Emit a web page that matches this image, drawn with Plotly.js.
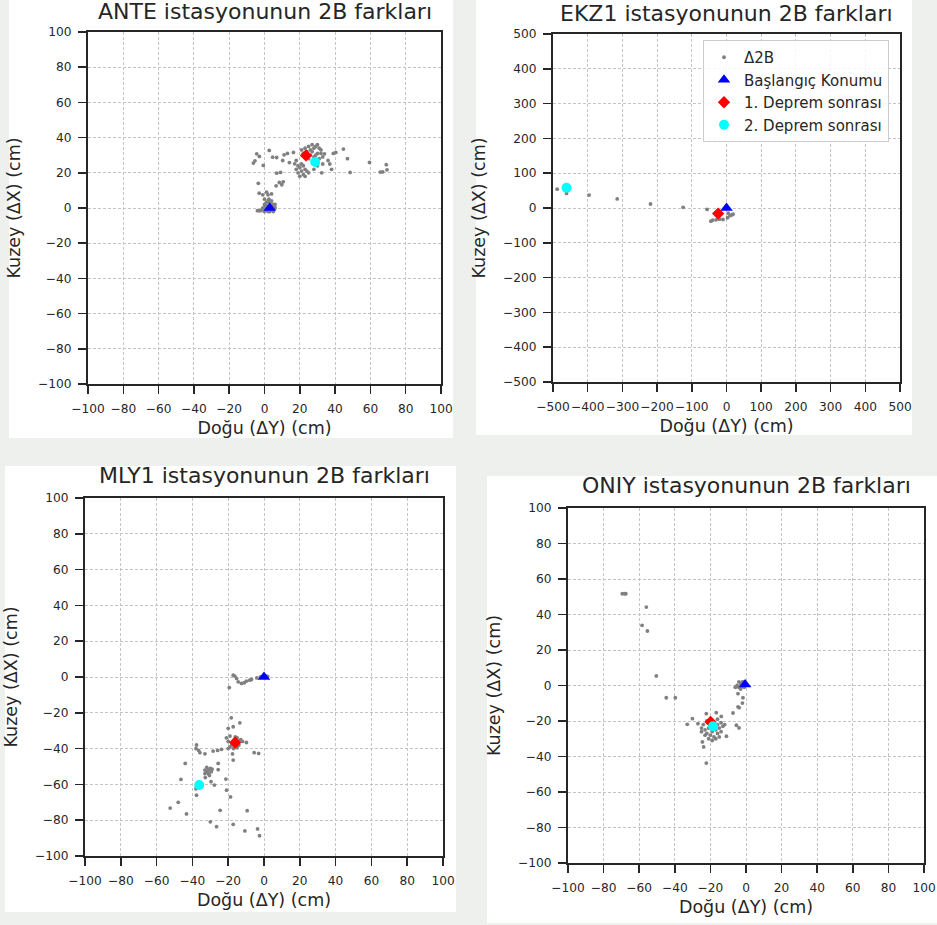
<!DOCTYPE html>
<html>
<head>
<meta charset="utf-8">
<script src="https://cdn.plot.ly/plotly-3.0.1.min.js"></script>
<style>html,body{margin:0;padding:0;background:#eef0ee;}#chart{width:937px;height:925px;}</style>
</head>
<body>
<div id="chart"></div>
<script>
// ---------------- DATA ----------------
const stations = ["ANTE", "EKZ1", "MLY1", "ONIY"];
const titleSuffix = " istasyonunun 2B farkları";
const xTitle = "Doğu (ΔY) (cm)";
const yTitle = "Kuzey (ΔX) (cm)";
const seriesNames = ["Δ2B", "Başlangıç Konumu", "1. Deprem sonrası", "2. Deprem sonrası"];

// ANTE
const anteDx = [0,1,2,3,4,5,2,4,1,3,5,6,0,3,-1,1,5,2,4,6,-3,-2,-4,0,1.5,3.5,4.5,2.5,0.5,5.5,
  -3.5,-3,-1,1.2,2,4,2.5,0,
  -4.4,-2.9,-5.4,-6.3,-0.7,2.7,4.6,6.9,10.3,11.1,13,16.4,14.1,17.1,18,
  6.9,9.1,8.4,10.6,6.6,9.8,
  20,19,21,22,23,20,24,19,22,25,21,18,23,
  21,23,25,26,27,28,29,30,31,32,26,28,30,31,27,24,22,29,32,33,25,
  34,36,37,39,40.4,44.7,47,48.5,32.4,38,59.5,65.6,69,69.4,67,28,30,33];
const anteDy = [0,-1,1,2,-1,0,-2,2,1,-2,2,0,2,3,0,3,-2,4,4,2,-1.5,-1.5,-1.5,-2,0.5,-0.5,1,-1,-0.5,1,
  14,8.4,7.5,9,7.5,8,5,5,
  30.8,29.3,26.8,25.5,24.2,32.7,28.9,28.7,27,30.2,31,31.6,25.8,25.1,27,
  19.8,20.2,14.5,14.9,12.6,13.2,
  18,20,21,19,22,23,21,24,24,20,25,22,18,
  33,34,35,33,32,34,35,36,34,33,30,29,31,28,36,32,31,30,31,29,28,
  30.8,27,25,31,31.6,33.5,28,20.2,20,22,25.9,20.4,24.6,21.7,20.5,22,24,25];
const anteStart = [3, 0];
const anteQuake1 = [23.5, 29.9];
const anteQuake2 = [28.7, 26.1];

// EKZ1
const ekzDx = [-488,-461,-458,-396,-315,-219,-125,-56,-40,-30,-20,-10,3,10,19,15,-45,5];
const ekzDy = [54,42,50,37,26,11.5,2,-4,-35,-34,-32,-33,-28,-22,-18,-20,-38,-15];
const ekzStart = [0, 0];
const ekzQuake1 = [-24, -16];
const ekzQuake2 = [-461, 58];

// MLY1
const mlyDx = [-17.2,-16.3,-15.3,-14.4,-12.6,-9.8,-7,-4,-2,1,2,-19.4,-11,-8,
  -18.3,-20,-17.2,-13.5,-19,-21,-20,-18,-15,-13,-14,-12,-17,-19,-9.8,-5.5,-3,-17.6,-17.2,-20,-16,-15,
  -37.7,-38,-36.5,-35.8,-33,-28.4,-23.7,-25.9,-44,-25.6,-25.6,
  -31,-32,-30,-33,-31,-29.5,-32,-30.5,-33,-29,
  -46.4,-32.8,-29.6,-27.7,-21.3,-37.7,-38,-37.7,-47.9,-52.4,-43.3,-24.5,-9.4,-20.9,-18.7,-30,-26.5,-17.2,-10.7,-3.6,-2.5];
const mlyDy = [1,0.5,-0.8,-2.7,-3.6,-2.3,-1.4,-0.5,0,0.5,0.3,-5.9,-3.2,-1.8,
  -22.8,-28.7,-27.8,-25.6,-33,-34,-36,-38,-34,-35,-38,-36,-40,-39,-36.6,-42.3,-42.7,-43,-46.4,-40,-33.5,-39.5,
  -38,-40,-41,-42.3,-42.9,-41.4,-40.4,-41,-48.3,-48.3,-51.8,
  -52,-53,-51,-52,-54,-53,-50.5,-55,-54,-51.5,
  -57.2,-56.2,-58.5,-60.4,-57,-61.3,-62.5,-66,-70,-73.2,-76.5,-74.5,-74.7,-63.2,-67,-80.9,-83.6,-82.3,-86,-84.9,-88.7];
const mlyStart = [0, 0];
const mlyQuake1 = [-16.1, -36.6];
const mlyQuake2 = [-36.2, -60.3];

// ONIY
const oniDx = [-69.5,-68.2,-67.5,-56,-58.4,-55.4,-50.4,-44.8,-39.7,-30.1,-33,-27,-22.3,-16.7,-13.9,-11,-24.5,-23.8,-22.3,-25,-25,
  -22,-20,-18,-16,-24,-23,-21,-19,-17,-15,-14,-13,-22,-20,-18,-16,-14,-21,-19,-17,-15,-23,-12,-20,-16,
  -4,-3,-2,-5,-1,-3,-2,-4,-6,-1,-4.5,-1.7,-2,-4.5,-3.8,-7.3,-5.4,-3.9];
const oniDy = [51.7,51.7,51.7,44.2,33.9,30.7,5.4,-6.9,-6.9,-18.7,-21.9,-21.5,-15.9,-15.3,-17.4,-28.6,-31.8,-34.6,-43.7,-24,-26,
  -20,-22,-21,-22,-22,-25,-24,-26,-25,-24,-21,-23,-27,-28,-29,-27,-26,-30,-31,-30,-29,-28,-22,-19,-19,
  -1,1,2,0,-1,-2,-0.5,2,-1,2,-4.6,-6.9,-9.9,-12,-12.5,-15.5,-22.4,-23.9];
const oniStart = [-0.5, 0.5];
const oniQuake1 = [-19.9, -20.5];
const oniQuake2 = [-18.5, -23];

// ---------------- LAYOUT HELPERS ----------------
const W = 937, H = 925;
const px = v => v / W;
const py = v => 1 - v / H;

const panels = [
  {name: stations[0], dx: anteDx, dy: anteDy, s: anteStart, q1: anteQuake1, q2: anteQuake2, range: [-100,100], dtick: 20,
   plot: [88,441,32,384], box: [9,453,0,438], titleY: 12, legend: false},
  {name: stations[1], dx: ekzDx, dy: ekzDy, s: ekzStart, q1: ekzQuake1, q2: ekzQuake2, range: [-500,500], dtick: 100,
   plot: [553,900,34,382], box: [476,912,0,435], titleY: 14, legend: true},
  {name: stations[2], dx: mlyDx, dy: mlyDy, s: mlyStart, q1: mlyQuake1, q2: mlyQuake2, range: [-100,100], dtick: 20,
   plot: [85,443,498,856], box: [5,456,466,912], titleY: 476, legend: false},
  {name: stations[3], dx: oniDx, dy: oniDy, s: oniStart, q1: oniQuake1, q2: oniQuake2, range: [-100,100], dtick: 20,
   plot: [568,924,508,863], box: [487,937,476,923], titleY: 486, legend: false}
];

const textColor = '#262626';
const traces = [];
const layout = {
  width: W, height: H,
  margin: {l: 0, r: 0, t: 0, b: 0},
  paper_bgcolor: '#eef0ee',
  plot_bgcolor: '#ffffff',
  font: {family: 'DejaVu Sans', size: 12, color: textColor},
  showlegend: true,
  legend: {
    x: px(703), y: py(40), xanchor: 'left', yanchor: 'top',
    bgcolor: 'rgba(255,255,255,0.85)', bordercolor: '#cccccc', borderwidth: 1,
    font: {family: 'DejaVu Sans', size: 15, color: textColor},
    traceorder: 'normal', itemsizing: 'trace'
  },
  shapes: [], annotations: []
};

panels.forEach((p, i) => {
  const n = i === 0 ? '' : String(i + 1);
  const xa = 'x' + n, ya = 'y' + n;
  traces.push({type: 'scatter', mode: 'markers', x: p.dx, y: p.dy, xaxis: xa, yaxis: ya,
    name: seriesNames[0], showlegend: p.legend, marker: {color: '#808080', size: 3.8}});
  traces.push({type: 'scatter', mode: 'markers', x: [p.s[0]], y: [p.s[1]], xaxis: xa, yaxis: ya,
    name: seriesNames[1], showlegend: p.legend, marker: {color: '#0000ff', size: 11, symbol: 'triangle-up'}});
  traces.push({type: 'scatter', mode: 'markers', x: [p.q1[0]], y: [p.q1[1]], xaxis: xa, yaxis: ya,
    name: seriesNames[2], showlegend: p.legend, marker: {color: '#ff0000', size: 9.5, symbol: 'diamond'}});
  traces.push({type: 'scatter', mode: 'markers', x: [p.q2[0]], y: [p.q2[1]], xaxis: xa, yaxis: ya,
    name: seriesNames[3], showlegend: p.legend, marker: {color: '#00ffff', size: 10, symbol: 'circle'}});

  const common = {
    range: p.range, dtick: p.dtick, tick0: 0, tickmode: 'linear',
    ticks: 'outside', ticklen: 8, tickwidth: 1.5, tickcolor: textColor, ticklabelstandoff: 4,
    showline: true, linecolor: textColor, linewidth: 2, mirror: true,
    showgrid: true, gridcolor: '#c4c4c4', gridwidth: 1, griddash: '3px,2px',
    zeroline: false, tickangle: 0, automargin: false, fixedrange: true,
    tickfont: {family: 'DejaVu Sans', size: 12.2, color: textColor}
  };
  layout['xaxis' + n] = Object.assign({}, common, {
    domain: [px(p.plot[0]), px(p.plot[1])], anchor: ya,
    title: {text: xTitle, font: {family: 'DejaVu Sans', size: 17.5, color: textColor}, standoff: 7}
  });
  layout['yaxis' + n] = Object.assign({}, common, {
    domain: [py(p.plot[3]), py(p.plot[2])], anchor: xa,
    title: {text: yTitle, font: {family: 'DejaVu Sans', size: 17.5, color: textColor}, standoff: 13}
  });
  layout.shapes.push({type: 'rect', xref: 'paper', yref: 'paper', layer: 'below',
    x0: px(p.box[0]), x1: px(p.box[1]), y0: py(p.box[3]), y1: py(p.box[2]),
    fillcolor: '#ffffff', line: {width: 0}});
  layout.annotations.push({xref: 'paper', yref: 'paper', x: px((p.plot[0] + p.plot[1]) / 2), y: py(p.titleY),
    xanchor: 'center', yanchor: 'middle', showarrow: false,
    text: p.name + titleSuffix, font: {family: 'DejaVu Sans', size: 22, color: textColor}});
});

Plotly.newPlot('chart', traces, layout, {displayModeBar: false, staticPlot: true});
</script>
</body>
</html>
